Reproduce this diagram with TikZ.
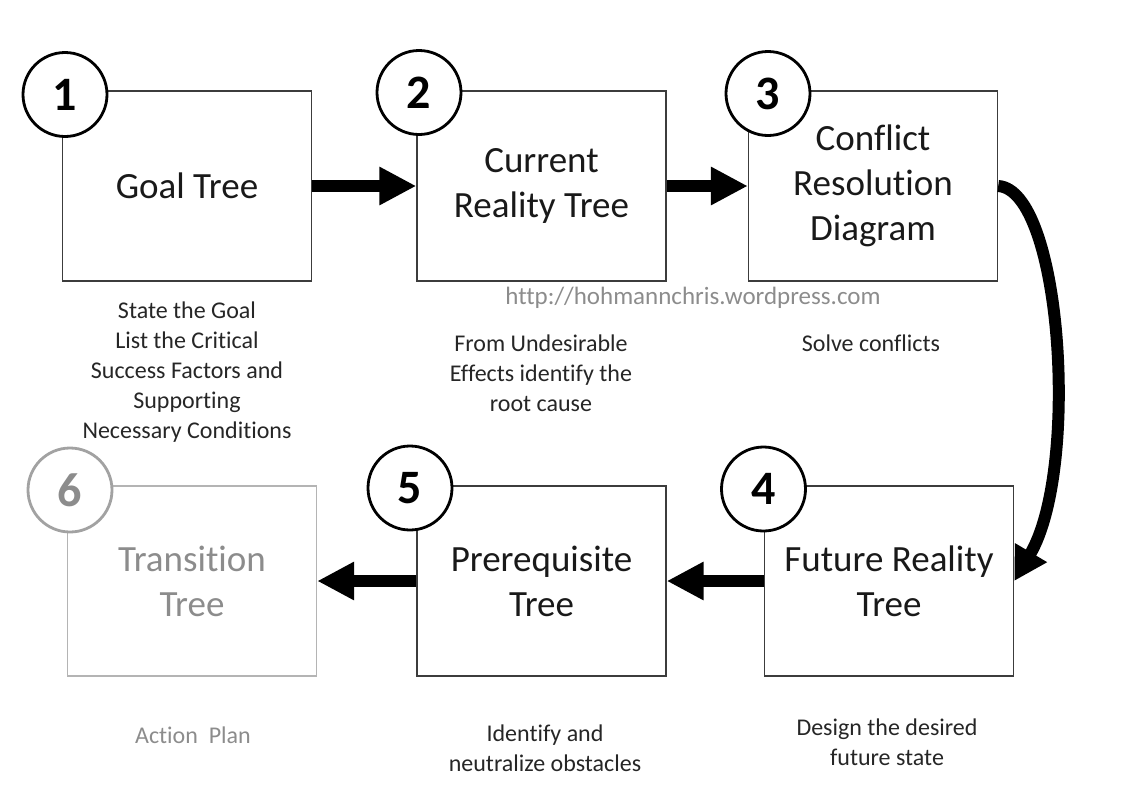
\documentclass[tikz,border=0pt]{standalone}
\usepackage{fontspec}
\setmainfont[Ligatures=CommonOff]{Carlito}
\usetikzlibrary{arrows.meta}
\definecolor{edge}{HTML}{3C3C3C}
\definecolor{faded}{HTML}{8C8C8C}
\definecolor{fadedline}{HTML}{B4B4B4}
\begin{document}
\begin{tikzpicture}[x=1pt,y=-1pt,
	box/.style={draw=edge,line width=1.4pt,minimum width=249pt,minimum height=190pt,align=center,font=\fontsize{37}{45}\selectfont,text=black!90},
	num/.style={circle,draw,fill=white,line width=2.8pt,minimum size=84pt,inner sep=0pt,font=\fontsize{48}{48}\selectfont\bfseries},
	note/.style={align=center,font=\fontsize{24}{30}\selectfont,text=black!85},
	fat/.style={line width=12pt,-{Triangle[length=37pt,width=36pt]}}]
	\useasboundingbox (0,0) rectangle (1134,798);
	\node[box] (goal) at (187,186) {Goal Tree};
	\node[box] (crt) at (541.5,186) {Current\\Reality Tree};
	\node[box] (crd) at (873,186) {Conflict\\Resolution\\Diagram};
	\node[box] (frt) at (889,581) {Future Reality\\Tree};
	\node[box] (prt) at (541.5,581) {Prerequisite\\Tree};
	\node[box,draw=fadedline,text=faded] (trt) at (192,581) {Transition\\Tree};
	\foreach \n/\x/\y in {1/65/94.5,2/419/92.5,3/768/93.5,4/763.5/489,5/410/488} \node[num] (c\n) at (\x,\y) {\n};
	\node[num,draw=fadedline!90!black,text=faded] (c6) at (70,490) {6};
	\draw[fat] (goal.east) -- (crt.west);
	\draw[fat] (crt.east) -- (crd.west);
	\draw[line width=12pt,-{Triangle[length=33pt,width=35pt]}] (crd.east) .. controls (1062,190) and (1080,470) .. (frt.east);
	\draw[fat] (frt.west) -- (prt.east);
	\draw[fat] (prt.west) -- (trt.east);
	\node[note] (goalnote) at (187,372) {State the Goal\\List the Critical\\Success Factors and\\Supporting\\Necessary Conditions};
	\node[note,text=faded,font=\fontsize{25}{30}\selectfont] (url) at (693,298) {http://hohmannchris.wordpress.com};
	\node[note] (crtnote) at (541,373) {From Undesirable\\Effects identify the\\root cause};
	\node[note] (crdnote) at (871,343) {Solve conflicts};
	\node[note] (frtnote) at (887,742) {Design the desired\\future state};
	\node[note] (prtnote) at (545,748) {Identify and\\neutralize obstacles};
	\node[note,text=faded] (trtnote) at (193,735) {Action~~Plan};
\end{tikzpicture}
\end{document}
